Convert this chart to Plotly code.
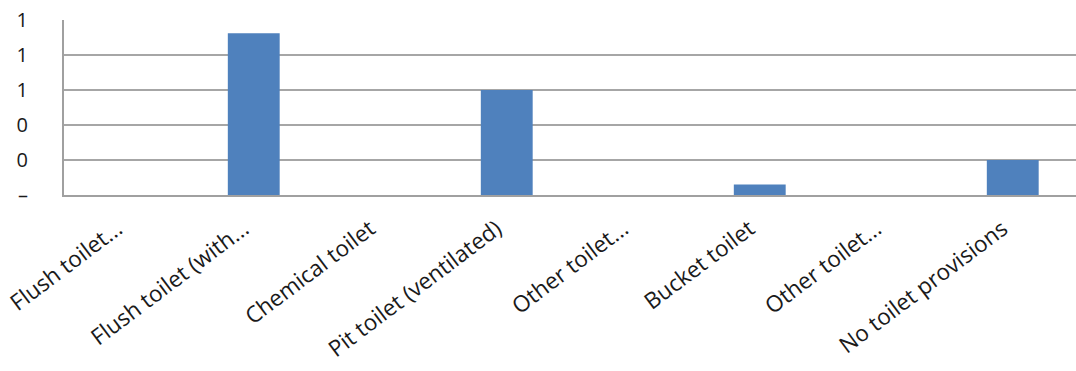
import plotly.graph_objects as go

# Toilet facility categories and their shares
categories = [
    "Flush toilet...",
    "Flush toilet (with...",
    "Chemical toilet",
    "Pit toilet (ventilated)",
    "Other toilet...",
    "Bucket toilet",
    "Other toilet...",
    "No toilet provisions",
]
values = [0, 0.925, 0, 0.6, 0, 0.06, 0, 0.2]

y_tickvals = [0, 0.2, 0.4, 0.6, 0.8, 1.0]
y_ticktext = ["–", "0", "0", "1", "1", "1"]

# Duplicate category names need unique x keys
x_keys = list(range(len(categories)))
# Rotated labels end slightly left of each bar's centre
label_pos = [k - 0.08 for k in x_keys]

fig = go.Figure(
    go.Bar(
        x=x_keys,
        y=values,
        width=0.41,
        marker=dict(color="#4f81bd", line=dict(width=0)),
    )
)

fig.update_layout(
    width=1076,
    height=371,
    margin=dict(l=64, r=0, t=20, b=176),
    paper_bgcolor="white",
    plot_bgcolor="white",
    showlegend=False,
    font=dict(family="Open Sans", color="#222222"),
)

fig.update_xaxes(
    tickmode="array",
    tickvals=label_pos,
    ticktext=categories,
    tickangle=-37,
    tickfont=dict(size=22.5, family="Open Sans", color="#1a1a1a"),
    range=[-0.5, len(categories) - 0.5],
    showline=True,
    linecolor="#a0a0a0",
    linewidth=2,
    ticks="",
    ticklabelstandoff=10,
    ticklabeloverflow="allow",
    showgrid=False,
)

fig.update_yaxes(
    range=[0, 1.0],
    tickmode="array",
    tickvals=y_tickvals,
    ticktext=y_ticktext,
    tickfont=dict(size=20, family="Open Sans", color="#1a1a1a"),
    showgrid=True,
    gridcolor="#a6a6a6",
    gridwidth=1.5,
    showline=True,
    linecolor="#a0a0a0",
    linewidth=2,
    ticks="",
    ticklabelstandoff=30,
    zeroline=False,
)

fig.write_html("out.html")
